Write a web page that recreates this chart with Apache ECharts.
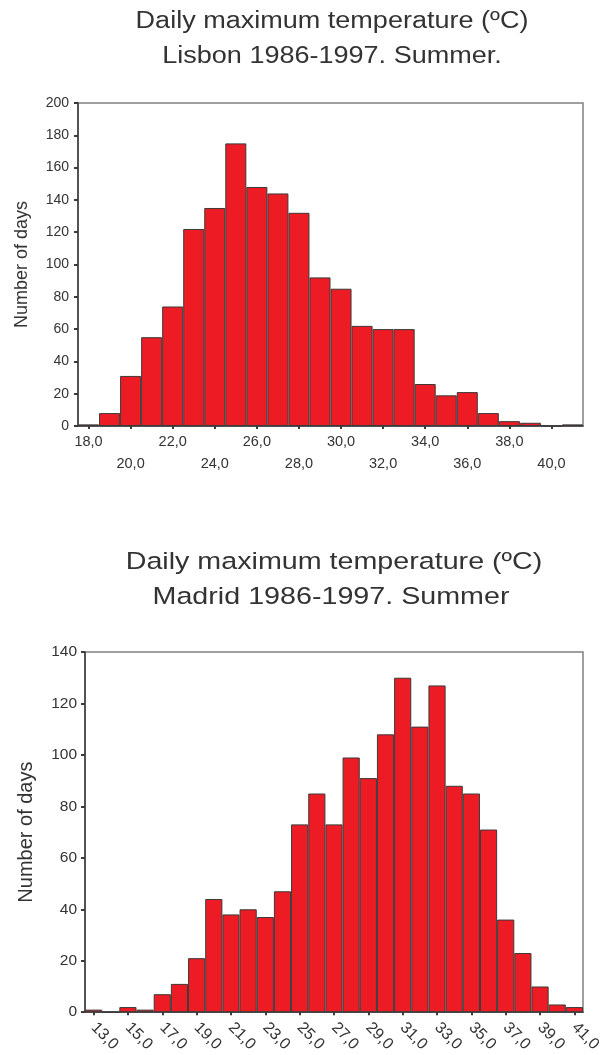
<!DOCTYPE html>
<html>
<head>
<meta charset="utf-8">
<script src="https://cdn.jsdelivr.net/npm/echarts@6/dist/echarts.min.js"></script>
<style>
html,body{margin:0;padding:0;background:#fff;}
#chart{width:612px;height:1055px;}
</style>
</head>
<body>
<div id="chart"></div>
<script>
// Lisbon histogram (bin centres, ºC) and counts
var lisbonBins = [18,19,20,21,22,23,24,25,26,27,28,29,30,31,32,33,34,35,36,37,38,39,40,41];
var lisbonDays = [1,8,31,55,74,122,135,175,148,144,132,92,85,62,60,60,26,19,21,8,3,2,0,1];
// Madrid histogram
var madridBins = [13,14,15,16,17,18,19,20,21,22,23,24,25,26,27,28,29,30,31,32,33,34,35,36,37,38,39,40,41];
var madridDays = [1,0,2,1,7,11,21,44,38,40,37,47,73,85,73,99,91,108,130,111,127,88,85,71,36,23,10,3,2];

var titleMain = 'Daily maximum temperature (ºC)';
var titleLisbon = 'Lisbon 1986-1997. Summer.';
var titleMadrid = 'Madrid 1986-1997. Summer';
var yName = 'Number of days';

var FONT = '"Liberation Sans", Arial, sans-serif';
var TXT = '#333333';
var RED = '#ED1C24';
var EDGE = '#3a3a3a';

function fmt(v){ return String(v) + ',0'; }

function titleText(str, cx, cy, size, sx){
  return {
    type: 'text', x: cx, y: cy, scaleX: sx, scaleY: 1, silent: true,
    style: {text: str, fill: TXT, font: 'normal ' + size + 'px ' + FONT,
            textAlign: 'center', textVerticalAlign: 'middle', align: 'center', verticalAlign: 'middle'}
  };
}

var chart = echarts.init(document.getElementById('chart'), null, {renderer:'canvas'});

var option = {
  animation: false,
  backgroundColor: '#ffffff',
  graphic: [
    titleText(titleMain, 332, 22, 23.5, 1.15),
    titleText(titleLisbon, 332, 57, 23.5, 1.15),
    titleText(titleMain, 334, 562, 24.5, 1.17),
    titleText(titleMadrid, 331, 597, 24.5, 1.17)
  ],
  grid: [
    {left: 78, top: 103, right: 29, height: 323, show: true, borderColor: '#808080', borderWidth: 1.5, backgroundColor: 'transparent'},
    {left: 85, top: 652, right: 29, height: 361, show: true, borderColor: '#808080', borderWidth: 1.5, backgroundColor: 'transparent'}
  ],
  xAxis: [
    {type:'category', gridIndex:0, data: lisbonBins, boundaryGap:true,
     axisLine:{show:true, lineStyle:{color:EDGE, width:1.5}},
     axisTick:{show:true, interval:1, alignWithLabel:true, length:3, lineStyle:{color:EDGE, width:2}},
     axisLabel:{interval:1, margin:5, fontFamily:FONT, fontSize:14.5, color:TXT, lineHeight:22,
       formatter:function(v, i){ return (Math.floor(i/2) % 2 === 1 ? '\n' : '') + fmt(v); }},
     splitLine:{show:false}},
    {type:'category', gridIndex:1, data: madridBins, boundaryGap:true,
     axisLine:{show:true, lineStyle:{color:EDGE, width:1.5}},
     axisTick:{show:true, interval:1, alignWithLabel:true, length:3, lineStyle:{color:EDGE, width:2}},
     axisLabel:{interval:1, margin:13, rotate:-45, fontFamily:FONT, fontSize:16, color:TXT,
       formatter:function(v){ return fmt(v); }},
     splitLine:{show:false}}
  ],
  yAxis: [
    {type:'value', gridIndex:0, min:0, max:200, interval:20,
     name: yName, nameLocation:'middle', nameGap:47,
     nameTextStyle:{fontFamily:FONT, fontSize:18, color:TXT},
     axisLine:{show:true, lineStyle:{color:EDGE, width:1.5}},
     axisTick:{show:true, length:4, lineStyle:{color:EDGE, width:2}},
     axisLabel:{margin:9, fontFamily:FONT, fontSize:14, color:TXT},
     splitLine:{show:false}},
    {type:'value', gridIndex:1, min:0, max:140, interval:20,
     name: yName, nameLocation:'middle', nameGap:49,
     nameTextStyle:{fontFamily:FONT, fontSize:20, color:TXT},
     axisLine:{show:true, lineStyle:{color:EDGE, width:1.5}},
     axisTick:{show:true, length:4, lineStyle:{color:EDGE, width:2}},
     axisLabel:{margin:8, fontFamily:FONT, fontSize:15.5, color:TXT},
     splitLine:{show:false}}
  ],
  series: [
    {type:'bar', xAxisIndex:0, yAxisIndex:0, data: lisbonDays, barCategoryGap:'0%',
     itemStyle:{color:RED, borderColor:EDGE, borderWidth:1}},
    {type:'bar', xAxisIndex:1, yAxisIndex:1, data: madridDays, barCategoryGap:'0%',
     itemStyle:{color:RED, borderColor:EDGE, borderWidth:1}}
  ]
};
chart.setOption(option);
</script>
</body>
</html>
